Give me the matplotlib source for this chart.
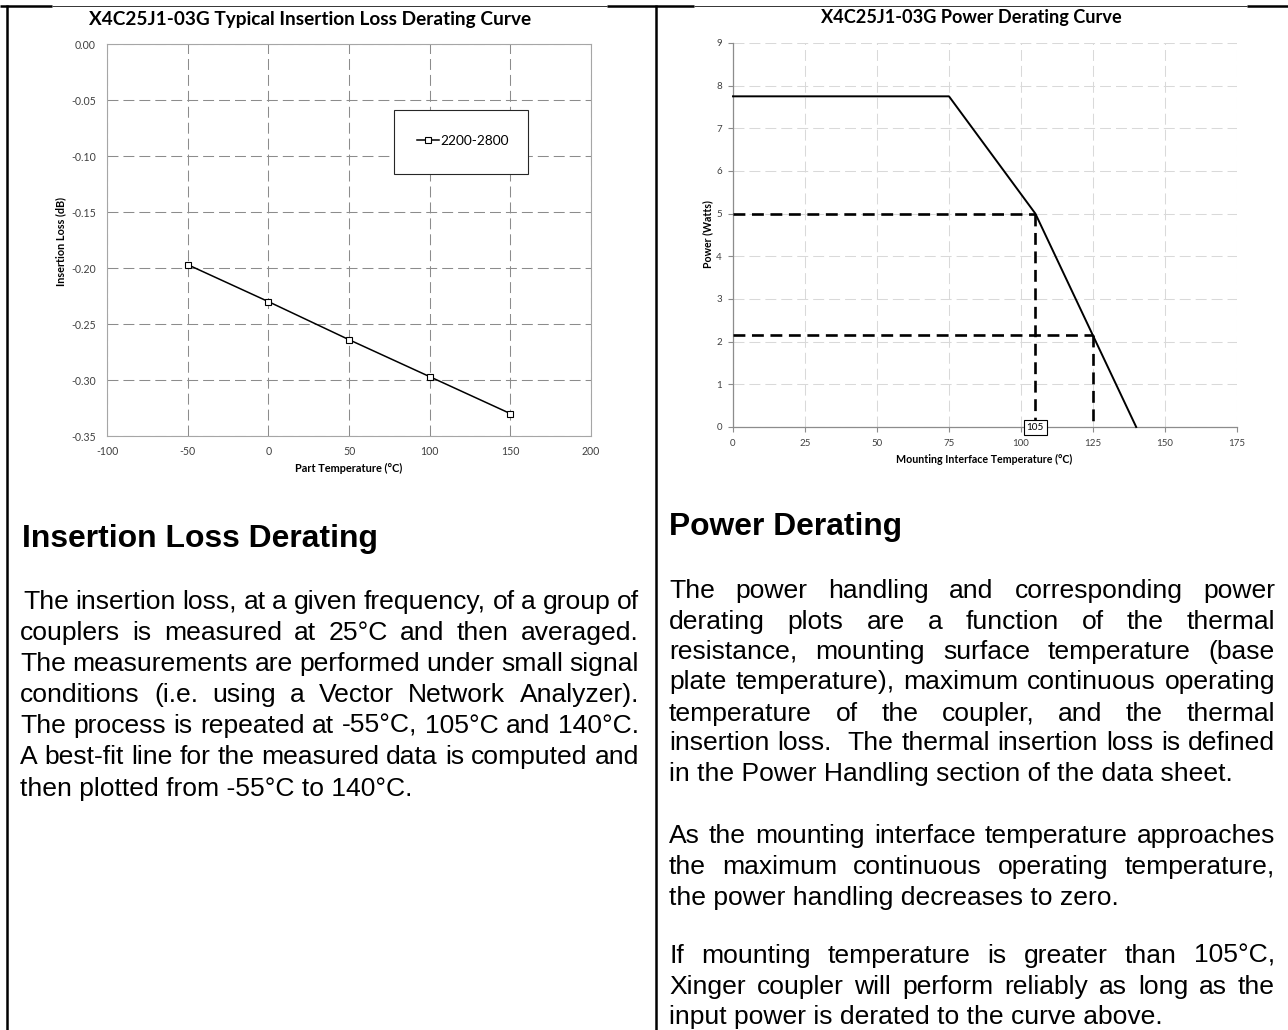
import re
import matplotlib
matplotlib.use("Agg")
import matplotlib.pyplot as plt
from matplotlib.lines import Line2D
from matplotlib.patches import Rectangle

plt.rcParams['axes.unicode_minus'] = False

# ---------------- data ----------------
il_temp = [-50, 0, 50, 100, 150]
il_loss = [-0.197, -0.230, -0.264, -0.297, -0.330]
il_series = "2200-2800"
il_xticks = [-100, -50, 0, 50, 100, 150, 200]
il_yticks = [0.00, -0.05, -0.10, -0.15, -0.20, -0.25, -0.30, -0.35]

pw_temp = [0, 75, 105, 140]
pw_watts = [7.75, 7.75, 5.0, 0.0]
pw_ref_temp = [105, 125]
pw_ref_watts = [5.0, 2.15]
pw_xticks = [0, 25, 50, 75, 100, 125, 150, 175]
pw_yticks = [0, 1, 2, 3, 4, 5, 6, 7, 8, 9]

left_title = "X4C25J1-03G Typical Insertion Loss Derating Curve"
right_title = "X4C25J1-03G Power Derating Curve"

left_heading = "Insertion Loss Derating"
left_para = [
    "The insertion loss, at a given frequency, of a group of",
    "couplers is measured at 25°C and then averaged.",
    "The measurements are performed under small signal",
    "conditions (i.e. using a Vector Network Analyzer).",
    "The process is repeated at -55°C, 105°C and 140°C.",
    "A best-fit line for the measured data is computed and",
    "then plotted from -55°C to 140°C.",
]
right_heading = "Power Derating"
right_paras = [
    [
        "The power handling and corresponding power",
        "derating plots are a function of the thermal",
        "resistance, mounting surface temperature (base",
        "plate temperature), maximum continuous operating",
        "temperature of the coupler, and the thermal",
        "insertion loss.  The thermal insertion loss is defined",
        "in the Power Handling section of the data sheet.",
    ],
    [
        "As the mounting interface temperature approaches",
        "the maximum continuous operating temperature,",
        "the power handling decreases to zero.",
    ],
    [
        "If mounting temperature is greater than 105°C,",
        "Xinger coupler will perform reliably as long as the",
        "input power is derated to the curve above.",
    ],
]

# ---------------- figure ----------------
W, H = 1288, 1030
fig = plt.figure(figsize=(W / 100, H / 100), dpi=100)
fig.patch.set_facecolor("white")
renderer = fig.canvas.get_renderer()


def fx(px):
    return px / W


def fy(py):
    return 1 - py / H


def rect(l, t, r, b):
    return [l / W, 1 - b / H, (r - l) / W, (b - t) / H]


def measure(s, size, **kw):
    t = fig.text(0, 0, s, fontsize=size, **kw)
    w = t.get_window_extent(renderer).width
    t.remove()
    return w


def fit(s, target, **kw):
    return 10 * target / measure(s, 10, **kw)


BODY = dict(family="Liberation Sans", color="black")
CHART = dict(family="Lato")

# ---------------- borders ----------------
def hline(x0, x1, y, lw, color):
    fig.add_artist(Line2D([fx(x0), fx(x1)], [fy(y), fy(y)], lw=lw, color=color,
                          transform=fig.transFigure, solid_capstyle="butt"))


def vline(x, y0, y1, lw, color):
    fig.add_artist(Line2D([fx(x), fx(x)], [fy(y0), fy(y1)], lw=lw, color=color,
                          transform=fig.transFigure, solid_capstyle="butt"))


hline(0, 52, 6, 1.8, "black")
hline(52, 607, 5.5, 0.7, "#333333")
hline(607, 694, 6, 1.8, "black")
hline(694, 1247, 5.5, 0.7, "#333333")
hline(1247, 1288, 6, 1.8, "black")
vline(7, 5, 1030, 1.8, "black")
vline(656, 5, 1030, 1.8, "black")

# ---------------- left chart ----------------
axL = fig.add_axes(rect(107, 44, 591, 436))
axL.set_xlim(il_xticks[0], il_xticks[-1])
axL.set_ylim(il_yticks[-1], il_yticks[0])
axL.set_xticks(il_xticks)
axL.set_yticks(il_yticks)
axL.set_yticklabels([f"{v:.2f}" for v in il_yticks])
axL.tick_params(length=0, labelsize=7.6, labelcolor="#404040", pad=8)
axL.tick_params(axis="x", pad=7)
for lab in axL.get_xticklabels() + axL.get_yticklabels():
    lab.set_family("Lato")
for sp in axL.spines.values():
    sp.set_color("#a6a6a6")
    sp.set_linewidth(0.8)
axL.grid(True, color="#8c8c8c", lw=0.75, dashes=(10.5, 4.8))
axL.set_axisbelow(True)
axL.plot(il_temp, il_loss, color="black", lw=1.1, marker="s", ms=5,
         mfc="white", mec="black", mew=0.8, label=il_series, zorder=3)

axL.add_patch(Rectangle((fx(394), fy(174)), 134 / W, 64 / H, transform=fig.transFigure,
                        fc="white", ec="#262626", lw=0.8, zorder=4, clip_on=False))
leg = axL.legend(loc="center", bbox_to_anchor=(fx(463), fy(141)),
                 bbox_transform=fig.transFigure, frameon=False, handlelength=1.6,
                 handletextpad=0.15, prop=dict(family="Lato", size=9.8))
leg.set_zorder(5)

s = fit(left_title, 441, weight="bold", **CHART)
fig.text(fx(89), fy(25), left_title, fontsize=s, weight="bold", va="baseline", **CHART)
lbl = "Part Temperature (°C)"
s = fit(lbl, 108, weight="bold", **CHART)
fig.text(fx(348.5), fy(468), lbl, fontsize=s, weight="bold", ha="center", va="center", **CHART)
lbl = "Insertion Loss (dB)"
s = fit(lbl, 90, weight="bold", **CHART)
fig.text(fx(61), fy(242), lbl, fontsize=s, weight="bold", rotation=90,
         ha="center", va="center", **CHART)

# ---------------- right chart ----------------
axR = fig.add_axes(rect(733, 43, 1237, 427))
axR.set_xlim(pw_xticks[0], pw_xticks[-1])
axR.set_ylim(pw_yticks[0], pw_yticks[-1])
axR.set_xticks(pw_xticks)
axR.set_yticks(pw_yticks)
axR.tick_params(length=3.5, width=0.8, color="#8c8c8c", labelsize=7.0,
                labelcolor="#404040", direction="out", pad=4.5)
axR.tick_params(axis="x", pad=5.5)
for lab in axR.get_xticklabels() + axR.get_yticklabels():
    lab.set_family("Lato")
for k in ("top", "right"):
    axR.spines[k].set_visible(False)
for k in ("left", "bottom"):
    axR.spines[k].set_color("#8c8c8c")
    axR.spines[k].set_linewidth(0.9)
axR.grid(True, color="#d9d9d9", lw=0.75, dashes=(10.5, 4.8))
axR.set_axisbelow(True)
axR.plot(pw_temp, pw_watts, color="black", lw=1.4, zorder=3, clip_on=False)
for t, w in zip(pw_ref_temp, pw_ref_watts):
    axR.plot([pw_xticks[0], t], [w, w], color="black", lw=1.9, dashes=(4.5, 2.5),
             zorder=3, solid_capstyle="butt")
    axR.plot([t, t], [w, pw_yticks[0]], color="black", lw=1.9, dashes=(4.5, 2.5),
             zorder=3)
axR.text(pw_ref_temp[0], pw_yticks[0], str(pw_ref_temp[0]), ha="center", va="center",
         fontsize=7.2, family="Lato", zorder=6,
         bbox=dict(boxstyle="square,pad=0.3", fc="white", ec="black", lw=0.8))

s = fit(right_title, 300, weight="bold", **CHART)
fig.text(fx(821), fy(23), right_title, fontsize=s, weight="bold", va="baseline", **CHART)
lbl = "Mounting Interface Temperature (°C)"
s = fit(lbl, 177, weight="bold", **CHART)
fig.text(fx(984.5), fy(459), lbl, fontsize=s, weight="bold", ha="center", va="center", **CHART)
lbl = "Power (Watts)"
s = fit(lbl, 68, weight="bold", **CHART)
fig.text(fx(708), fy(234), lbl, fontsize=s, weight="bold", rotation=90,
         ha="center", va="center", **CHART)

# ---------------- text blocks ----------------
def draw_line(line, x0, x1, base, size, justify):
    if not justify:
        fig.text(fx(x0), fy(base), line, fontsize=size, va="baseline", **BODY)
        return
    words = line.split()
    gaps = [len(g) for g in re.findall(r" +", line.strip())]
    widths = [measure(w, size, **BODY) for w in words]
    unit = (x1 - x0 - sum(widths)) / max(sum(gaps), 1)
    x = x0
    for i, w in enumerate(words):
        fig.text(fx(x), fy(base), w, fontsize=size, va="baseline", **BODY)
        x += widths[i]
        if i < len(gaps):
            x += unit * gaps[i]


# left column
s = fit(left_heading, 356, weight="bold", **BODY)
fig.text(fx(22), fy(547), left_heading, fontsize=s, weight="bold", va="baseline", **BODY)
bs = fit(left_para[-1], 393, **BODY)
left_bases = [609, 640, 671, 702, 733, 764, 796]
for i, (line, b) in enumerate(zip(left_para, left_bases)):
    x0 = 23 if i == 0 else 20
    draw_line(line, x0, 639, b, bs, i < len(left_para) - 1)

# right column
s = fit(right_heading, 233, weight="bold", **BODY)
fig.text(fx(669), fy(535), right_heading, fontsize=s, weight="bold", va="baseline", **BODY)
rs = fit(right_paras[0][-1], 564, **BODY)
right_bases = [[598, 629, 659, 689, 721, 750, 781], [843, 874, 905], [963, 994, 1024]]
for para, bases in zip(right_paras, right_bases):
    for i, (line, b) in enumerate(zip(para, bases)):
        draw_line(line, 669, 1275, b, rs, i < len(para) - 1)

fig.savefig("out.png", dpi=100, facecolor="white")
